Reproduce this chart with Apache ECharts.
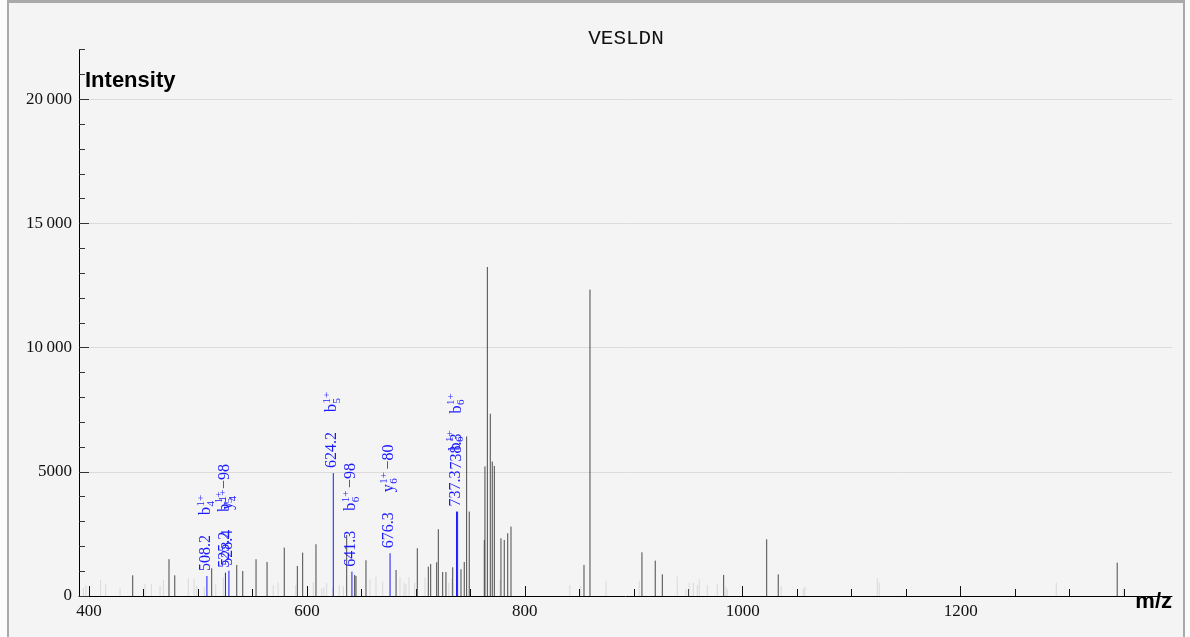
<!DOCTYPE html>
<html><head><meta charset="utf-8">
<script src="https://cdn.jsdelivr.net/npm/echarts@6/dist/echarts.min.js"></script>
<style>
html,body{margin:0;padding:0;background:#fbfbfb;overflow:hidden;}
#frame{position:absolute;left:7px;top:0px;width:1174px;height:680px;border:2px solid #a9a9a9;border-top-width:3px;background:#f4f4f4;}
#chart{position:absolute;left:0;top:0;width:1190px;height:637px;}
</style></head><body><div id="frame"></div><div id="chart"></div>
<script>
// ---------- data ----------
const peptide = 'VESLDN';
const xMajorTicks = [400, 600, 800, 1000, 1200];
const xMinorTicks = [400,450,500,550,600,650,700,750,800,850,900,950,1000,1050,1100,1150,1200,1250,1300,1350];
const yMajorTicks = [0, 5000, 10000, 15000, 20000];
const yMinorTicks = [0,1000,2000,3000,4000,5000,6000,7000,8000,9000,10000,11000,12000,13000,14000,15000,16000,17000,18000,19000,20000,21000,22000];

// faint (unmatched, low) peaks
const lightMz  = [394.8,397.2,410.7,415.3,428.5,451.4,457.2,465.2,468.2,491.1,496.4,498.8,505.8,516.3,523.3,569.1,573.5,589.7,605.9,613.6,615.7,618.2,623.7,629.7,633.4,657.9,663.4,669.5,685.4,689.1,690.9,693.7,698.9,708.4,730.2,732.9,777.2,841.4,851.3,874.5,905.0,939.9,947.9,950.9,954.6,958.3,960.1,967.5,976.6,984.6,985.8,1035.2,1055.6,1057.1,1123.5,1125.3,1287.8,1349.2];
const lightInt = [320,440,645,484,310,484,484,403,645,713,685,403,350,484,753,440,550,440,550,310,350,512,320,440,403,685,780,577,753,537,484,753,537,753,520,700,645,440,400,617,617,780,280,537,537,440,672,440,484,375,280,400,310,375,713,537,537,310];

// unmatched peaks
const darkMz  = [440.1,473.4,478.7,512.6,535.6,541.1,553.3,563.4,579.2,591.2,596.1,608.3,636.5,643.8,645.0,654.2,681.8,701.3,711.4,713.6,719.1,720.6,724.6,727.6,733.8,741.4,744.4,746.6,749.0,762.8,763.4,765.6,768.3,770.1,772.0,778.1,781.1,784.3,787.3,854.3,859.8,907.5,919.7,926.2,982.5,1022.0,1032.6,1343.7];
const darkInt = [834,1480,834,1117,1250,1008,1480,1371,1948,1210,1747,2085,2460,847,806,1440,1048,1923,1183,1290,1360,2690,968,968,1157,1075,1371,6425,3400,2258,5220,13250,7340,5417,5240,2325,2258,2527,2796,1250,12340,1760,1425,874,847,2285,874,1343];

// matched (annotated) peaks
const annMz     = [508.2, 525.2, 528.4, 624.2, 641.3, 676.3, 737.3, 738.3];
const annInt    = [806, 940, 1020, 4950, 980, 1720, 3400, 3400];
const annIon    = ['b', 'b', 'y', 'b', 'b', 'y', 'b', 'b'];
const annIonNum = ['4', '5', '4', '5', '6', '6', '6', '6'];
const annCharge = ['1+', '1+', '1+', '1+', '1+', '1+', '1+', '1+'];
const annLoss   = ['', '\u221298', '', '', '\u221298', '\u221280', '', ''];

// ---------- rendering ----------
const BLUE = '#1a1aff';
const DARK = '#4a4a4a';
const LIGHT = '#d9d9d9';
const SERIF = '"Liberation Serif", "DejaVu Serif", serif';
const LBL_FONT = '16px ' + SERIF;
const SUB_FONT = '11px ' + SERIF;
const mctx = document.createElement('canvas').getContext('2d');
function tw(t, f) { mctx.font = f; return mctx.measureText(t).width; }

function stick(color) {
  return function (params, api) {
    const b = api.coord([api.value(0), 0]);
    const t = api.coord([api.value(0), api.value(1)]);
    return { type: 'line', silent: true,
      shape: { x1: b[0], y1: b[1], x2: t[0], y2: t[1] },
      style: { stroke: color, lineWidth: 1 } };
  };
}

let prevAnn = null;
function annItem(params, api) {
  const i = params.dataIndex;
  if (i === 0) prevAnn = null;
  const b = api.coord([api.value(0), 0]);
  const t = api.coord([api.value(0), api.value(1)]);
  const x = t[0];
  const label = annMz[i].toFixed(1);
  const lw = tw(label, LBL_FONT);
  let lblBottom = t[1] - 5;
  if (prevAnn && Math.abs(x - prevAnn.x) < 2) lblBottom = Math.min(lblBottom, prevAnn.top - 1);
  const lblTop = lblBottom - lw;
  prevAnn = { x: x, top: lblTop };
  const children = [
    { type: 'line', shape: { x1: x, y1: b[1], x2: x, y2: t[1] }, style: { stroke: BLUE, lineWidth: 1 } },
    { type: 'text', x: x - 1, y: lblBottom, rotation: Math.PI / 2,
      style: { text: label, font: LBL_FONT, fill: BLUE, align: 'left', verticalAlign: 'middle' } }
  ];
  if (annIon[i]) {
    const bw = tw(annIon[i], LBL_FONT);
    const supW = tw(annCharge[i], SUB_FONT), subW = tw(annIonNum[i], SUB_FONT);
    const g = { type: 'group', x: x - 1, y: lblTop - 20, rotation: Math.PI / 2, children: [
      { type: 'text', x: 0, y: 0, style: { text: annIon[i], font: LBL_FONT, fill: BLUE, align: 'left', verticalAlign: 'middle' } },
      { type: 'text', x: bw + 0.5, y: -5, style: { text: annCharge[i], font: SUB_FONT, fill: BLUE, align: 'left', verticalAlign: 'middle' } },
      { type: 'text', x: bw + 0.5, y: 5, style: { text: annIonNum[i], font: SUB_FONT, fill: BLUE, align: 'left', verticalAlign: 'middle' } }
    ] };
    if (annLoss[i]) g.children.push({ type: 'text', x: bw + Math.max(supW, subW) + 3, y: 0,
      style: { text: annLoss[i], font: LBL_FONT, fill: BLUE, align: 'left', verticalAlign: 'middle' } });
    children.push(g);
  }
  return { type: 'group', children: children };
}

function fmtY(v) {
  if (v >= 10000) { const s = String(v); return s.slice(0, s.length - 3) + '\u2009' + s.slice(-3); }
  return String(v);
}
function fmtX(v) { return String(v); }

const X_MIN = 390.8, X_MAX = 1394, Y_MAX = 22000;
const chart = echarts.init(document.getElementById('chart'), null, { renderer: 'canvas' });
chart.setOption({
  backgroundColor: 'transparent',
  animation: false,
  grid: { left: 79, right: 18, top: 49.7, bottom: 41, containLabel: false },
  xAxis: [
    { type: 'value', min: X_MIN, max: X_MAX, position: 'bottom',
      axisLine: { show: true, onZero: false, lineStyle: { color: '#000', width: 1 } },
      axisTick: { show: true, inside: true, length: 10, customValues: xMajorTicks, lineStyle: { color: '#111' } },
      axisLabel: { show: true, customValues: xMajorTicks, margin: 7, color: '#111', fontFamily: SERIF, fontSize: 17, formatter: fmtX },
      splitLine: { show: false } },
    { type: 'value', min: X_MIN, max: X_MAX, position: 'bottom', gridIndex: 0,
      axisLine: { show: false, onZero: false },
      axisTick: { show: true, inside: true, length: 7, customValues: xMinorTicks, lineStyle: { color: '#111' } },
      axisLabel: { show: false }, splitLine: { show: false } }
  ],
  yAxis: [
    { type: 'value', min: 0, max: Y_MAX,
      axisLine: { show: true, onZero: false, lineStyle: { color: '#000', width: 1 } },
      axisTick: { show: true, inside: true, length: 10, customValues: yMajorTicks, lineStyle: { color: '#333' } },
      axisLabel: { show: true, customValues: yMajorTicks, margin: 7, color: '#111', fontFamily: SERIF, fontSize: 17, formatter: fmtY },
      splitLine: { show: true, lineStyle: { color: '#dcdcdc', width: 1 } } },
    { type: 'value', min: 0, max: Y_MAX, position: 'left', gridIndex: 0,
      axisLine: { show: false, onZero: false },
      axisTick: { show: true, inside: true, length: 6, customValues: yMinorTicks, lineStyle: { color: '#333' } },
      axisLabel: { show: false }, splitLine: { show: false } }
  ],
  graphic: [
    { type: 'text', x: 626, y: 38, style: { text: peptide, font: '21px "Liberation Mono", monospace', fill: '#111', align: 'center', verticalAlign: 'middle' } },
    { type: 'text', x: 85, y: 70, style: { text: 'Intensity', font: 'bold 22px "Liberation Sans", Arial, sans-serif', fill: '#000', align: 'left', verticalAlign: 'alphabetic' } },
    { type: 'text', x: 1172, y: 591, style: { text: 'm/z', font: 'bold 22px "Liberation Sans", Arial, sans-serif', fill: '#000', align: 'right', verticalAlign: 'alphabetic' } }
  ],
  series: [
    { type: 'custom', name: 'faint', xAxisIndex: 0, yAxisIndex: 0, renderItem: stick(LIGHT), z: 1,
      data: lightMz.map((m, i) => [m, lightInt[i]]) },
    { type: 'custom', name: 'peaks', xAxisIndex: 0, yAxisIndex: 0, renderItem: stick(DARK), z: 2,
      data: darkMz.map((m, i) => [m, darkInt[i]]) },
    { type: 'custom', name: 'matched', xAxisIndex: 0, yAxisIndex: 0, renderItem: annItem, z: 3,
      data: annMz.map((m, i) => [m, annInt[i]]) }
  ]
});
</script></body></html>
